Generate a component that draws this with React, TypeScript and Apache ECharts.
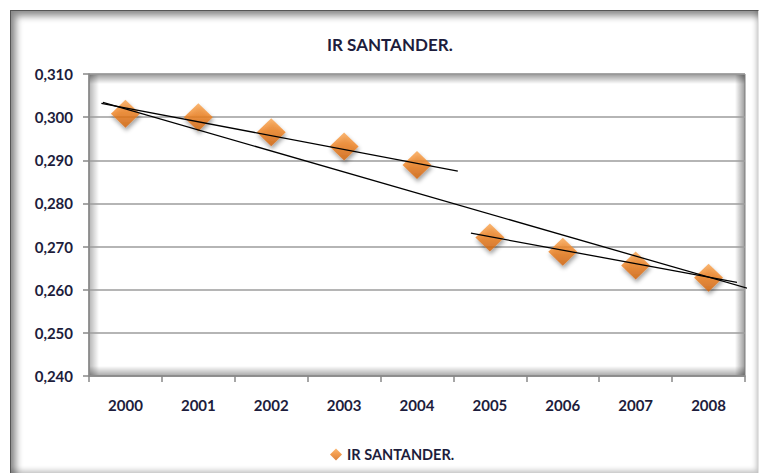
import React, { useEffect, useRef } from "react";
import * as echarts from "echarts";

const years = ["2000", "2001", "2002", "2003", "2004", "2005", "2006", "2007", "2008"];
const irValues = [0.3008, 0.3, 0.2965, 0.2932, 0.2889, 0.2721, 0.2688, 0.2656, 0.2628];
// trend lines: [category position (0 = 2000), value]
const trendAll = [[-0.31, 0.3034], [8.56, 0.2602]];
const trendFirst = [[-0.33, 0.3032], [4.56, 0.2875]];
const trendSecond = [[4.74, 0.2731], [8.39, 0.2617]];
const yTicks = { min: 0.24, max: 0.31, interval: 0.01 };

const TITLE = "IR SANTANDER.";
const FONT = "Lato, 'Open Sans', sans-serif";
const TEXT = "#1d1d3c";

const W = 760, H = 475;
const G = { left: 89, top: 74, right: 15, bottom: 99 };

export default function App() {
  const ref = useRef<HTMLDivElement>(null);
  useEffect(() => {
    document.body.style.margin = "0";
    const chart = echarts.init(ref.current!, null, { renderer: "svg" });
    const gw = W - G.left - G.right;
    const gh = H - G.top - G.bottom;
    const sh = 10;
    const edge = (x: number, y: number, w: number, h: number, gx: number, gy: number, gx2: number, gy2: number, a: number) => ({
      type: "rect",
      shape: { x, y, width: w, height: h },
      silent: true,
      z: -1,
      style: {
        fill: new echarts.graphic.LinearGradient(gx, gy, gx2, gy2, [
          { offset: 0, color: `rgba(0,0,0,${a})` },
          { offset: 1, color: "rgba(0,0,0,0)" },
        ]),
      },
    });
    const trendStyle = { color: "#000", width: 1.3 };
    const trendSeries = (data: number[][], name: string) => ({
      type: "line",
      name,
      xAxisIndex: 1,
      data,
      symbol: "none",
      lineStyle: trendStyle,
      silent: true,
      z: 3,
    });
    chart.setOption({
      animation: false,
      backgroundColor: "#fff",
      title: {
        text: TITLE,
        left: 322,
        top: 31,
        textStyle: { fontFamily: FONT, fontSize: 17, fontWeight: "bold", color: TEXT },
      },
      legend: {
        data: [TITLE],
        left: 325,
        top: 442,
        icon: "diamond",
        itemWidth: 12,
        itemHeight: 12,
        itemGap: 5,
        textStyle: { fontFamily: FONT, fontSize: 14.5, fontWeight: "bold", color: TEXT },
      },
      grid: { ...G, show: true, borderColor: "#7f7f7f", borderWidth: 1 },
      xAxis: [
        {
          type: "category",
          data: years,
          boundaryGap: true,
          axisLine: { onZero: false, lineStyle: { color: "#888", width: 1.5 } },
          axisTick: { show: true, length: 6, lineStyle: { color: "#888", width: 1.5 } },
          axisLabel: { margin: 21, fontFamily: FONT, fontSize: 15, fontWeight: "bold", color: TEXT },
        },
        {
          type: "value",
          min: -0.5,
          max: 8.5,
          show: false,
        },
      ],
      yAxis: {
        type: "value",
        min: yTicks.min,
        max: yTicks.max,
        interval: yTicks.interval,
        axisLine: { show: true, onZero: false, lineStyle: { color: "#888", width: 1.5 } },
        axisTick: { show: true, length: 6, lineStyle: { color: "#888", width: 1.5 } },
        splitLine: { lineStyle: { color: "#9c9c9c", width: 1.5 } },
        axisLabel: {
          margin: 16,
          fontFamily: FONT,
          fontSize: 15,
          fontWeight: "bold",
          color: TEXT,
          formatter: (v: number) => v.toFixed(3).replace(".", ","),
        },
      },
      series: [
        {
          type: "scatter",
          name: TITLE,
          data: irValues,
          symbol: "diamond",
          symbolSize: [29, 28],
          z: 2,
          itemStyle: {
            color: new echarts.graphic.LinearGradient(0, 0, 0, 1, [
              { offset: 0, color: "#f9a44f" },
              { offset: 0.45, color: "#f08322" },
              { offset: 1, color: "#d1630d" },
            ]),
            shadowColor: "rgba(0,0,0,0.45)",
            shadowBlur: 4,
            shadowOffsetX: 1,
            shadowOffsetY: 3,
          },
        },
        trendSeries(trendAll, "trend all"),
        trendSeries(trendFirst, "trend 2000-2004"),
        trendSeries(trendSecond, "trend 2005-2008"),
      ],
      graphic: [
        edge(G.left, G.top, sh, gh, 0, 0, 1, 0, 0.3),
        edge(G.left, G.top, gw, sh, 0, 0, 0, 1, 0.4),
        edge(G.left + gw - sh, G.top, sh, gh, 1, 0, 0, 0, 0.4),
        edge(G.left, G.top + gh - sh, gw, sh, 0, 1, 0, 0, 0.35),
      ],
    });
    return () => chart.dispose();
  }, []);
  return (
    <div style={{ position: "relative", width: W, height: H, overflow: "hidden" }}>
      <div ref={ref} style={{ width: W, height: H }} />
      <div
        style={{
          position: "absolute",
          left: 10,
          top: 10,
          width: 747,
          height: 462,
          borderLeft: "1px solid #555",
          borderTop: "1px solid #555",
          borderRight: "1px solid #e4e4e4",
          boxShadow: "inset 5px 5px 7px rgba(0,0,0,0.45), inset -2px -3px 5px rgba(0,0,0,0.2)",
          pointerEvents: "none",
        }}
      />
    </div>
  );
}
